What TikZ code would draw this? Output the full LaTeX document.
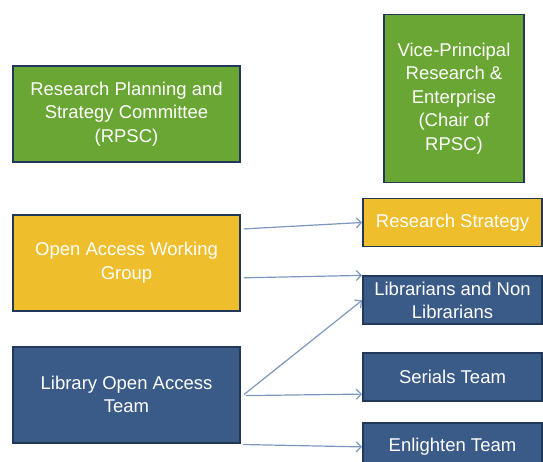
\documentclass[tikz,border=0pt]{standalone}
\usepackage{fontspec}
\setmainfont{Liberation Sans}
\usetikzlibrary{positioning}
\usetikzlibrary{arrows.meta}
\definecolor{boxgreen}{HTML}{6AA633}
\definecolor{boxyellow}{HTML}{EFBE2C}
\definecolor{boxblue}{HTML}{3A5A88}
\definecolor{boxedge}{HTML}{22385A}
\definecolor{arrowblue}{HTML}{7A98BE}

\begin{document}
\begin{tikzpicture}[x=1pt, y=-1pt,
bignode/.style={rectangle, draw=boxedge, line width=1.8pt, text=white, align=center, inner sep=2pt, font=\fontsize{18.5}{23.5}\selectfont},
teamnode/.style={bignode, minimum width=179pt, minimum height=48pt},
arr/.style={draw=arrowblue, line width=1.2pt, -{Straight Barb[length=5pt,width=10pt]}}]
\useasboundingbox (0,0) rectangle (543,462);
\clip (0,0) rectangle (543,462);

\node[bignode, fill=boxgreen, minimum width=227pt, minimum height=96pt] (rpsc) at (126.5,114) {Research Planning and\\Strategy Committee\\(RPSC)};
\node[bignode, fill=boxgreen, minimum width=140pt, minimum height=168pt] (vp) at (454,98.5) {Vice-Principal\\Research \&\\Enterprise\\(Chair of\\RPSC)};
\node[bignode, fill=boxyellow, minimum width=227pt, minimum height=96pt] (oawg) [below=51pt of rpsc] {Open Access Working\\Group};
\node[bignode, fill=boxblue, minimum width=227pt, minimum height=96pt] (loat) [below=34pt of oawg] {Library Open Access\\Team};

\node[teamnode, fill=boxyellow] (rs) at (452.5,222.5) {Research Strategy};
\node[teamnode, fill=boxblue] (lib) [below=28pt of rs] {Librarians and Non\\Librarians};
\node[teamnode, fill=boxblue] (ser) [below=27pt of lib] {Serials Team};
\node[teamnode, fill=boxblue] (enl) [below=20pt of ser] {Enlighten Team};

\draw[arr] ([xshift=3pt,yshift=-15pt]oawg.north east) -- (rs.west);
\draw[arr] ([xshift=3pt,yshift=-15pt]oawg.east) -- (lib.north west);
\draw[arr] ([xshift=3pt]loat.east) -- (lib.west);
\draw[arr] ([xshift=5pt,yshift=-1pt]loat.east) -- ([yshift=-17pt]ser.west);
\draw[arr] ([xshift=2pt,yshift=-1pt]loat.south east) -- (enl.west);
\end{tikzpicture}
\end{document}
